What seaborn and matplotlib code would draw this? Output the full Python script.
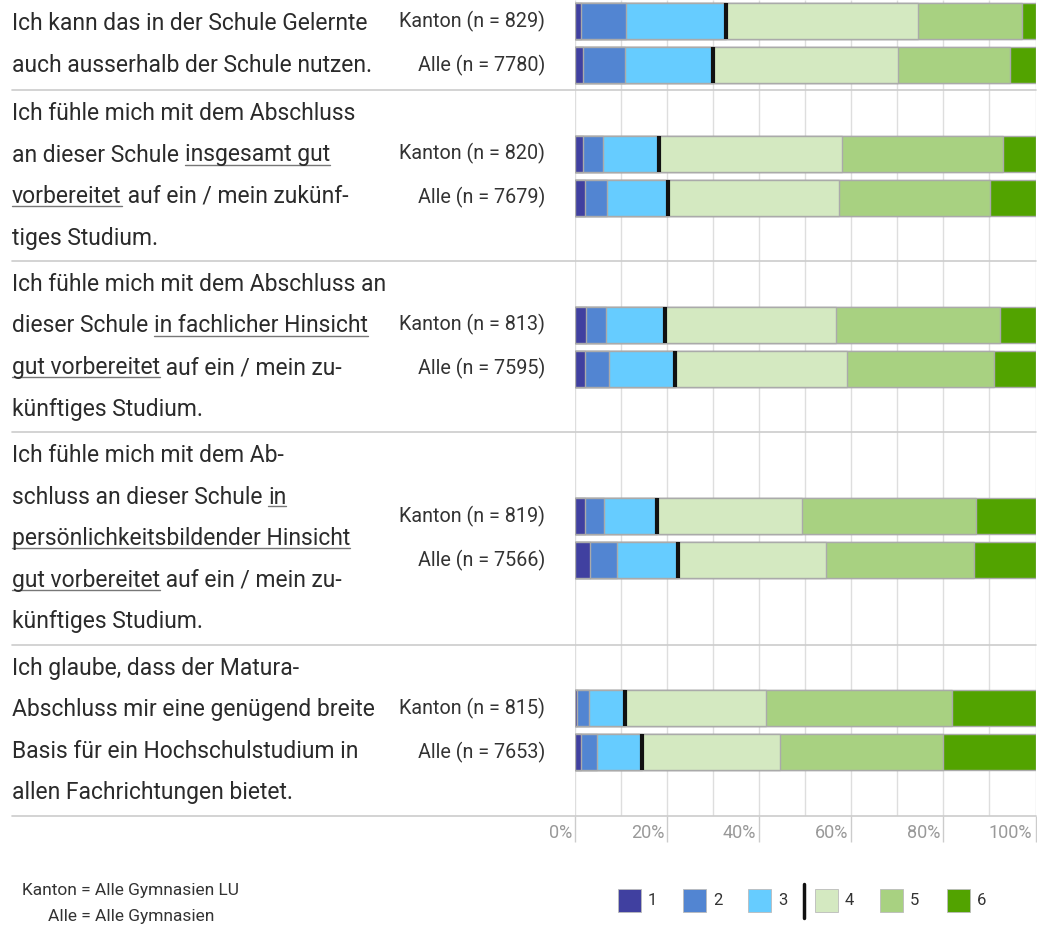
import numpy as np
import pandas as pd
import matplotlib
matplotlib.use('Agg')
import matplotlib.pyplot as plt
from matplotlib.lines import Line2D
from matplotlib.patches import Rectangle
import seaborn as sns

# ============================================================
# DATA
# ============================================================
# question text, "_" marks underlined parts
questions = [
    ["Ich kann das in der Schule Gelernte",
     "auch ausserhalb der Schule nutzen."],
    ["Ich fühle mich mit dem Abschluss",
     "an dieser Schule _insgesamt gut_",
     "_vorbereitet_ auf ein / mein zukünf-",
     "tiges Studium."],
    ["Ich fühle mich mit dem Abschluss an",
     "dieser Schule _in fachlicher Hinsicht_",
     "_gut vorbereitet_ auf ein / mein zu-",
     "künftiges Studium."],
    ["Ich fühle mich mit dem Ab-",
     "schluss an dieser Schule _in_",
     "_persönlichkeitsbildender Hinsicht_",
     "_gut vorbereitet_ auf ein / mein zu-",
     "künftiges Studium."],
    ["Ich glaube, dass der Matura-",
     "Abschluss mir eine genügend breite",
     "Basis für ein Hochschulstudium in",
     "allen Fachrichtungen bietet."],
]

kanton_n = [829, 820, 813, 819, 815]
alle_n = [7780, 7679, 7595, 7566, 7653]

levels = ['1', '2', '3', '4', '5', '6']

# shares in % for answers 1..6
kanton_pct = [
    [1.3, 9.7, 21.7, 41.8, 22.6, 2.9],
    [1.8, 4.2, 12.3, 39.6, 35.1, 7.0],
    [2.3, 4.4, 12.9, 37.1, 35.6, 7.7],
    [2.1, 4.3, 11.3, 31.6, 37.7, 13.0],
    [0.5, 2.6, 7.8, 30.5, 40.4, 18.2],
]
alle_pct = [
    [1.7, 9.2, 19.0, 40.3, 24.2, 5.6],
    [2.2, 4.7, 13.2, 37.3, 32.8, 9.8],
    [2.1, 5.3, 14.3, 37.4, 31.9, 9.0],
    [3.3, 5.8, 13.2, 32.3, 32.1, 13.3],
    [1.2, 3.5, 9.8, 30.0, 35.5, 20.0],
]

xticks = [0, 20, 40, 60, 80, 100]
xtick_labels = ['0%', '20%', '40%', '60%', '80%', '100%']

colors = ['#4040a0', '#5285d2', '#66ccff', '#d4e9c1', '#a8d181', '#52a300']

# ============================================================
# LAYOUT (pixels)
# ============================================================
W, H = 1037, 925
LINE = 41.5
PAD = 5
Y0 = 2
X0, X1 = 575, 1035.5
BOTTOM = 815.5

sns.set_style('white')
plt.rcParams['font.family'] = ['Roboto', 'DejaVu Sans']

fig = plt.figure(figsize=(W / 100, H / 100), dpi=100)
ax = fig.add_axes([X0 / W, 1 - BOTTOM / H, (X1 - X0) / W, BOTTOM / H])

def fx(x):
    return x / W

def fy(y):
    return 1 - y / H

# group boundaries from number of text lines
tops = []
y = Y0
for q in questions:
    tops.append(y)
    y += len(q) * LINE + PAD
bottoms = [t + len(q) * LINE + PAD for t, q in zip(tops, questions)]
centers = [(t + b) / 2 for t, b in zip(tops, bottoms)]
centers[0] -= 3  # first block is cut at the top

# ============================================================
# BARS
# ============================================================
rows = []
for i in range(len(questions)):
    for who, pct, off in [('Kanton', kanton_pct[i], -22), ('Alle', alle_pct[i], 22)]:
        cum = np.cumsum(pct)
        for k, lev in enumerate(levels):
            rows.append({'q': i, 'who': who, 'level': lev, 'cum': cum[k],
                         'ypos': centers[i] + off})
df = pd.DataFrame(rows)

# grid
ax.vlines(np.arange(0, 101, 10), 0, BOTTOM, color='#dedede', lw=1, zorder=0)

for k in range(len(levels) - 1, -1, -1):
    sub = df[df['level'] == levels[k]]
    sns.barplot(data=sub, x='cum', y='ypos', orient='y', native_scale=True,
                color=colors[k], width=36 / 44, edgecolor='#aaaaaa', linewidth=1,
                errorbar=None, saturation=1, ax=ax)

# black marker between 3 and 4
mid = df[df['level'] == '3']
ax.vlines(mid['cum'], mid['ypos'] - 18, mid['ypos'] + 18, color='#111111', lw=3, zorder=5)

ax.set_xlim(0, 100)
ax.set_ylim(BOTTOM, 0)
ax.set_xlabel('')
ax.set_ylabel('')
ax.set_xticks([])
ax.set_yticks([])
for s in ax.spines.values():
    s.set_visible(False)

# bottom ticks and labels
ax.vlines(xticks, BOTTOM, BOTTOM + 26, color='#cccccc', lw=1, clip_on=False)
for xt, lab in zip(xticks, xtick_labels):
    ax.annotate(lab, (xt, BOTTOM + 17), xytext=(-3, 0), textcoords='offset pixels',
                ha='right', va='center', fontsize=13, color='#999999',
                annotation_clip=False)

# separators
for b in bottoms:
    fig.add_artist(Line2D([fx(12), fx(X1)], [fy(b), fy(b)], color='#cccccc', lw=1.2))

# ============================================================
# TEXT
# ============================================================
renderer = fig.canvas.get_renderer()

def text_width(s, **kw):
    t = fig.text(0, 0, '|' + s + '|', **kw)
    t2 = fig.text(0, 0, '||', **kw)
    w = t.get_window_extent(renderer).width - t2.get_window_extent(renderer).width
    t.remove()
    t2.remove()
    return w

qkw = dict(fontsize=16.5, color='#2b2b2b')
for i, q in enumerate(questions):
    for j, line in enumerate(q):
        yc = tops[i] + 23 + j * LINE
        if i == 0:
            yc -= 2
        base = yc + 7
        cur = 12
        for p_i, part in enumerate(line.split('_')):
            if not part:
                continue
            fig.text(fx(cur), fy(base), part, ha='left', va='baseline', **qkw)
            w = text_width(part, **qkw)
            if p_i % 2 == 1:
                fig.add_artist(Line2D([fx(cur), fx(cur + w)], [fy(base + 3), fy(base + 3)],
                                      color='#777777', lw=1))
            cur += w

    fig.text(fx(545), fy(centers[i] - 22), f'Kanton (n = {kanton_n[i]})',
             ha='right', va='center', fontsize=14.2, color='#333333')
    fig.text(fx(545), fy(centers[i] + 22), f'Alle (n = {alle_n[i]})',
             ha='right', va='center', fontsize=14.2, color='#333333')

# footnote
fig.text(fx(131), fy(890), 'Kanton = Alle Gymnasien LU', ha='center', va='center',
         fontsize=12.5, color='#333333')
fig.text(fx(131), fy(916), 'Alle = Alle Gymnasien', ha='center', va='center',
         fontsize=12.5, color='#333333')

# legend
leg_x = [618, 683, 748, 815, 880, 947]
for lx, c, lab in zip(leg_x, colors, levels):
    fig.add_artist(Rectangle((fx(lx), fy(912)), 23 / W, 23 / H, transform=fig.transFigure,
                             facecolor=c, edgecolor='#bbbbbb', lw=0.6))
    fig.text(fx(lx + 30), fy(900.5), lab, ha='left', va='center', fontsize=12, color='#333333')
fig.add_artist(Line2D([fx(804), fx(804)], [fy(884), fy(918)], color='#111111', lw=2.5))

fig.savefig('out.png', dpi=100)
